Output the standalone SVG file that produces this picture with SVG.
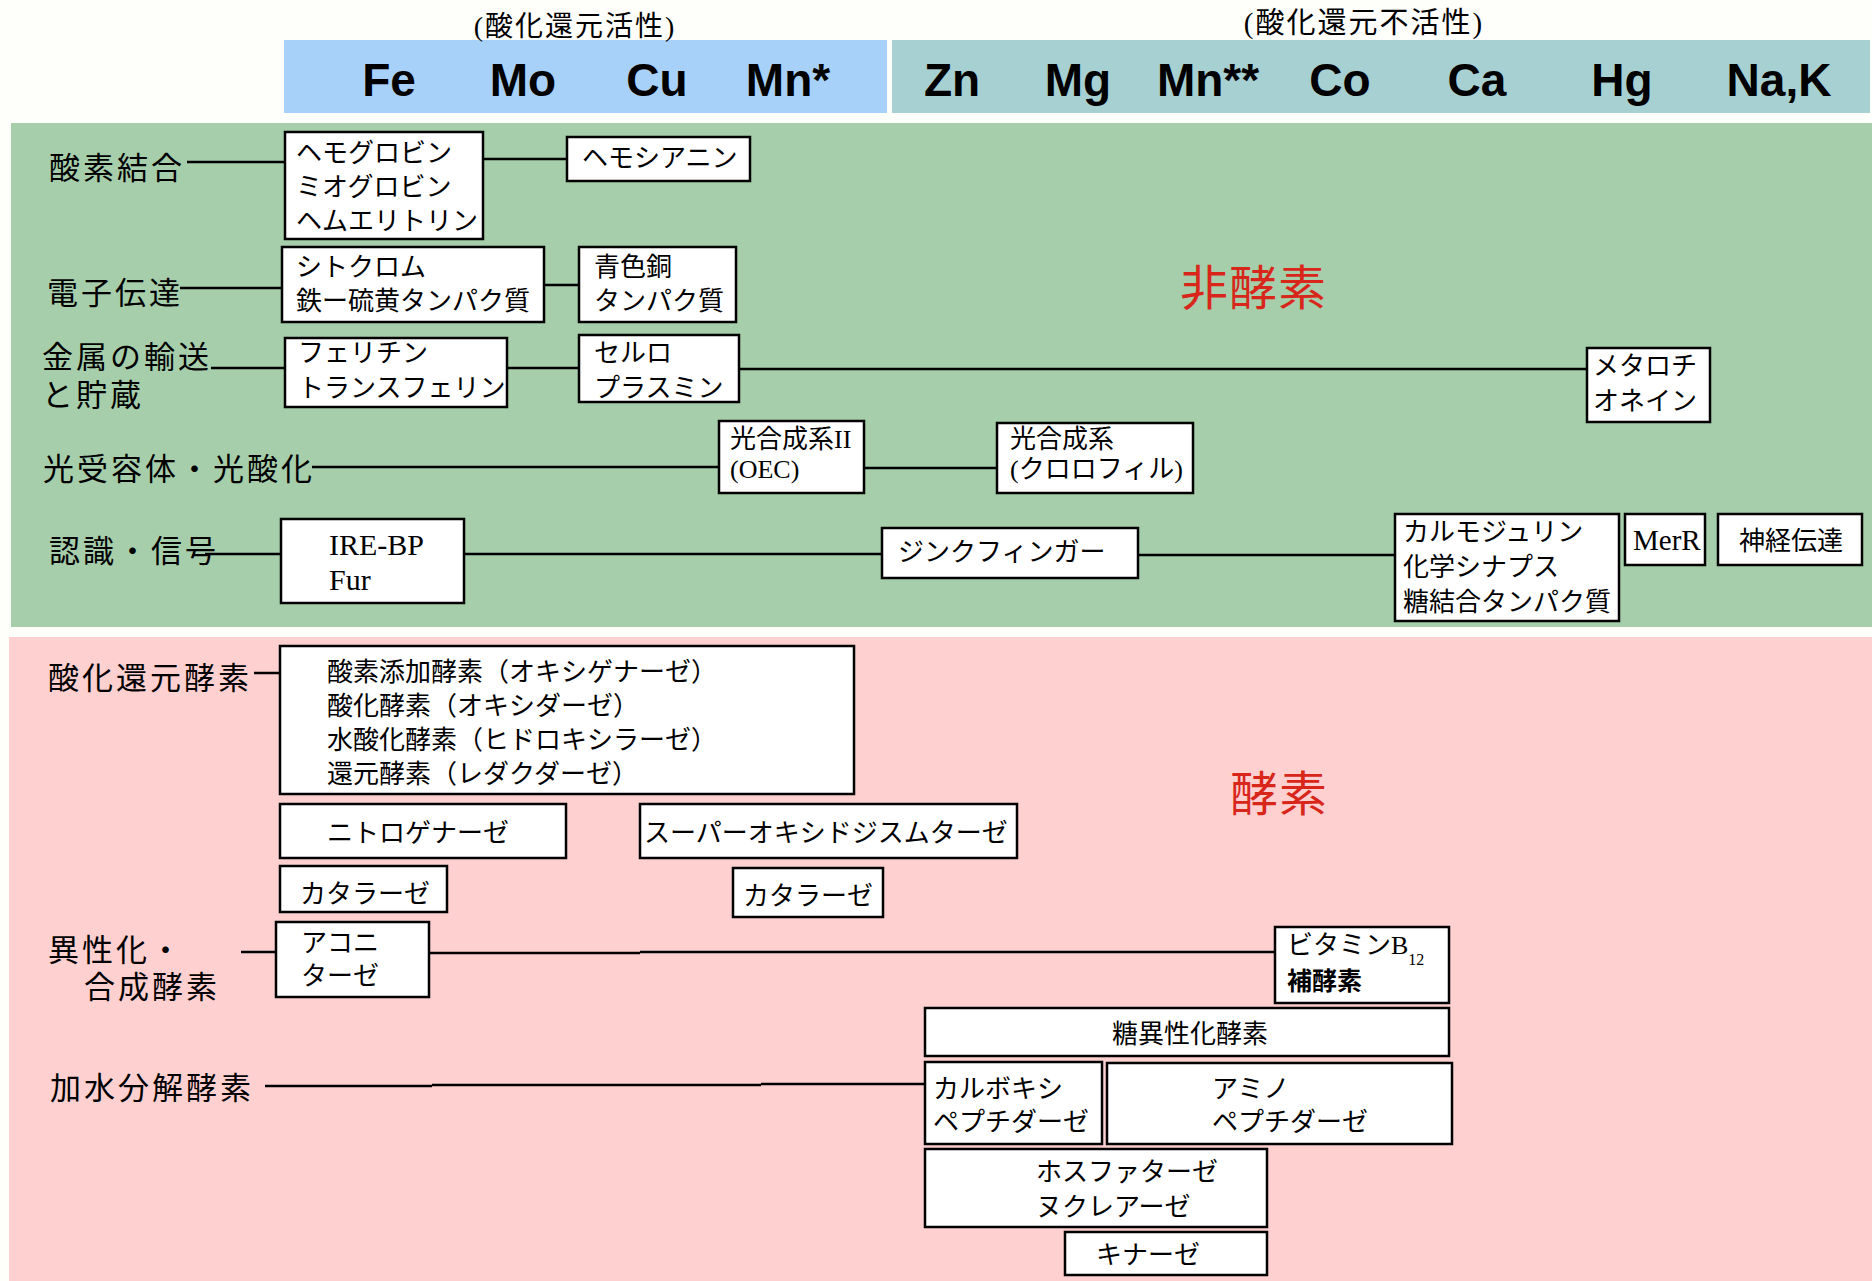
<svg xmlns="http://www.w3.org/2000/svg" width="1872" height="1281" viewBox="0 0 1872 1281">
<style>
.bg{fill:#fefefb}
.box{fill:#ffffff;stroke:#000;stroke-width:2.5}
.conn line{stroke:#000;stroke-width:2.5}
text{font-family:"Liberation Serif","Noto Sans CJK JP",serif;fill:#000}
.t{font-size:26px}
.lat{font-size:30px}
.lbl{font-size:31px;letter-spacing:3px}
.hd{font-size:28px;text-anchor:middle;letter-spacing:2px}
.el{font-family:"Liberation Sans",Arial,sans-serif;font-weight:bold;font-size:46px;text-anchor:middle}
.big{font-size:48px;fill:#d8261a;letter-spacing:1px}
.bold{font-family:"Noto Sans CJK JP",sans-serif;font-weight:bold;font-size:25px}
</style>
<rect class="bg" x="0" y="0" width="1872" height="1281"/>
<!-- header -->
<g id="header">
<rect x="284" y="40" width="603" height="73" fill="#a8d1f9"/>
<rect x="892" y="40" width="978" height="73" fill="#a7d0d3"/>
<text class="hd" x="575" y="36">(酸化還元活性)</text>
<text class="hd" x="1364" y="33" style="font-size:29px">(酸化還元不活性)</text>
<text class="el" x="389" y="96">Fe</text>
<text class="el" x="523" y="96">Mo</text>
<text class="el" x="657" y="96">Cu</text>
<text class="el" x="788" y="96">Mn*</text>
<text class="el" x="952" y="96">Zn</text>
<text class="el" x="1078" y="96">Mg</text>
<text class="el" x="1208" y="96">Mn**</text>
<text class="el" x="1340" y="96">Co</text>
<text class="el" x="1477" y="96">Ca</text>
<text class="el" x="1622" y="96">Hg</text>
<text class="el" x="1779" y="96">Na,K</text>
</g>
<!-- bands -->
<rect x="11" y="123" width="1861" height="504" fill="#a6ceaa"/>
<rect x="9" y="637" width="1863" height="644" fill="#fed0d0"/>
<text class="big" x="1180" y="305">非酵素</text>
<text class="big" x="1230" y="811">酵素</text>
<!-- category labels -->
<g id="labels">
<text class="lbl" x="49" y="179">酸素結合</text>
<text class="lbl" x="47" y="304">電子伝達</text>
<text class="lbl" x="42" y="368">金属の輸送</text>
<text class="lbl" x="42" y="406">と貯蔵</text>
<text class="lbl" x="43" y="480">光受容体・光酸化</text>
<text class="lbl" x="49" y="562">認識・信号</text>
<text class="lbl" x="48" y="689">酸化還元酵素</text>
<text class="lbl" x="48" y="961">異性化・</text>
<text class="lbl" x="84" y="998">合成酵素</text>
<text class="lbl" x="50" y="1099">加水分解酵素</text>
</g>
<!-- connectors -->
<g class="conn">
<line x1="187" y1="162" x2="285" y2="162"/>
<line x1="483" y1="159" x2="567" y2="159"/>
<line x1="180" y1="288" x2="282" y2="288"/>
<line x1="544" y1="285" x2="579" y2="285"/>
<line x1="211" y1="368" x2="285" y2="368"/>
<line x1="507" y1="368" x2="579" y2="368"/>
<line x1="739" y1="369" x2="1587" y2="369"/>
<line x1="312" y1="467" x2="719" y2="467"/>
<line x1="864" y1="468" x2="997" y2="468"/>
<line x1="205" y1="554" x2="281" y2="554"/>
<line x1="464" y1="554" x2="882" y2="554"/>
<line x1="1138" y1="555" x2="1395" y2="555"/>
<line x1="254" y1="673" x2="280" y2="673"/>
<line x1="241" y1="952" x2="276" y2="952"/>
<line x1="429" y1="953" x2="640" y2="953"/>
<line x1="640" y1="952" x2="1275" y2="952"/>
<line x1="265" y1="1086" x2="432" y2="1086"/>
<line x1="432" y1="1085" x2="761" y2="1085"/>
<line x1="761" y1="1084" x2="925" y2="1084"/>
</g>
<!-- non-enzyme nodes -->
<g id="n-hemoglobin"><rect class="box" x="285" y="132" width="198" height="107"/>
<text class="t" x="296" y="162">ヘモグロビン</text><text class="t" x="296" y="196">ミオグロビン</text><text class="t" x="296" y="230">ヘムエリトリン</text></g>
<g id="n-hemocyanin"><rect class="box" x="567" y="137" width="183" height="44"/>
<text class="t" x="582" y="167">ヘモシアニン</text></g>
<g id="n-cytochrome"><rect class="box" x="282" y="247" width="262" height="75"/>
<text class="t" x="296" y="276">シトクロム</text><text class="t" x="296" y="310">鉄ー硫黄タンパク質</text></g>
<g id="n-bluecopper"><rect class="box" x="579" y="247" width="157" height="75"/>
<text class="t" x="594" y="276">青色銅</text><text class="t" x="594" y="310">タンパク質</text></g>
<g id="n-ferritin"><rect class="box" x="285" y="338" width="222" height="69"/>
<text class="t" x="298" y="362">フェリチン</text><text class="t" x="298" y="397">トランスフェリン</text></g>
<g id="n-ceruloplasmin"><rect class="box" x="579" y="335" width="160" height="67"/>
<text class="t" x="594" y="362">セルロ</text><text class="t" x="594" y="397">プラスミン</text></g>
<g id="n-metallothionein"><rect class="box" x="1587" y="348" width="123" height="74"/>
<text class="t" x="1593" y="375">メタロチ</text><text class="t" x="1593" y="410">オネイン</text></g>
<g id="n-psii"><rect class="box" x="719" y="421" width="145" height="72"/>
<text class="t" x="730" y="448">光合成系II</text><text class="t" x="730" y="478">(OEC)</text></g>
<g id="n-psi"><rect class="box" x="997" y="423" width="196" height="70"/>
<text class="t" x="1010" y="448">光合成系</text><text class="t" x="1010" y="478">(クロロフィル)</text></g>
<g id="n-irebp"><rect class="box" x="281" y="519" width="183" height="84"/>
<text class="lat" x="329" y="555">IRE-BP</text><text class="lat" x="329" y="590">Fur</text></g>
<g id="n-zincfinger"><rect class="box" x="882" y="528" width="256" height="50"/>
<text class="t" x="898" y="561">ジンクフィンガー</text></g>
<g id="n-calmodulin"><rect class="box" x="1395" y="514" width="224" height="107"/>
<text class="t" x="1403" y="541">カルモジュリン</text><text class="t" x="1403" y="576">化学シナプス</text><text class="t" x="1403" y="611">糖結合タンパク質</text></g>
<g id="n-merr"><rect class="box" x="1625" y="514" width="80" height="51"/>
<text class="lat" x="1633" y="550" style="font-size:29px">MerR</text></g>
<g id="n-neuro"><rect class="box" x="1718" y="514" width="144" height="51"/>
<text class="t" x="1739" y="550">神経伝達</text></g>
<!-- enzyme nodes -->
<g id="n-redox"><rect class="box" x="280" y="646" width="574" height="148"/>
<text class="t" x="327" y="681">酸素添加酵素（オキシゲナーゼ）</text>
<text class="t" x="327" y="715">酸化酵素（オキシダーゼ）</text>
<text class="t" x="327" y="749">水酸化酵素（ヒドロキシラーゼ）</text>
<text class="t" x="327" y="783">還元酵素（レダクダーゼ）</text></g>
<g id="n-nitrogenase"><rect class="box" x="280" y="804" width="286" height="54"/>
<text class="t" x="327" y="842">ニトロゲナーゼ</text></g>
<g id="n-sod"><rect class="box" x="640" y="804" width="377" height="54"/>
<text class="t" x="644" y="842">スーパーオキシドジスムターゼ</text></g>
<g id="n-catalase1"><rect class="box" x="280" y="866" width="167" height="46"/>
<text class="t" x="300" y="903">カタラーゼ</text></g>
<g id="n-catalase2"><rect class="box" x="733" y="868" width="150" height="49"/>
<text class="t" x="743" y="905">カタラーゼ</text></g>
<g id="n-aconitase"><rect class="box" x="276" y="922" width="153" height="75"/>
<text class="t" x="301" y="952">アコニ</text><text class="t" x="301" y="985">ターゼ</text></g>
<g id="n-b12"><rect class="box" x="1275" y="927" width="174" height="76"/>
<text class="t" x="1287" y="954">ビタミンB<tspan font-size="16" dy="11">12</tspan></text>
<text class="bold" x="1287" y="990">補酵素</text></g>
<g id="n-sugarisomerase"><rect class="box" x="925" y="1008" width="524" height="48"/>
<text class="t" x="1190" y="1043" text-anchor="middle">糖異性化酵素</text></g>
<g id="n-carboxy"><rect class="box" x="925" y="1062" width="177" height="82"/>
<text class="t" x="933" y="1098">カルボキシ</text><text class="t" x="933" y="1131">ペプチダーゼ</text></g>
<g id="n-amino"><rect class="box" x="1107" y="1063" width="345" height="81"/>
<text class="t" x="1212" y="1098">アミノ</text><text class="t" x="1212" y="1131">ペプチダーゼ</text></g>
<g id="n-phosphatase"><rect class="box" x="925" y="1149" width="342" height="78"/>
<text class="t" x="1036" y="1181">ホスファターゼ</text><text class="t" x="1036" y="1216">ヌクレアーゼ</text></g>
<g id="n-kinase"><rect class="box" x="1065" y="1232" width="202" height="43"/>
<text class="t" x="1096" y="1264">キナーゼ</text></g>
</svg>
